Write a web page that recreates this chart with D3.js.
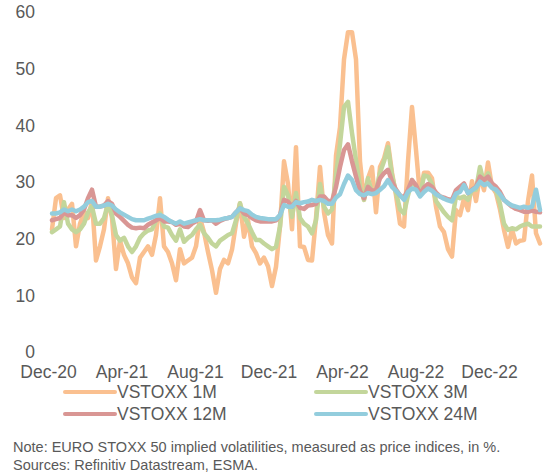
<!DOCTYPE html>
<html>
<head>
<meta charset="utf-8">
<script src="https://cdn.jsdelivr.net/npm/d3@7/dist/d3.min.js"></script>
<style>
  body { margin: 0; background: #fff; }
  svg { display: block; font-family: "Liberation Sans", Arial, sans-serif; }
</style>
</head>
<body>
<svg id="chart" width="556" height="473"></svg>
<script>
// tick labels
var xLabels = ["Dec-20", "Apr-21", "Aug-21", "Dec-21", "Apr-22", "Aug-22", "Dec-22"];
var yTicks = [0, 10, 20, 30, 40, 50, 60];

// series names
var names = ["VSTOXX 1M", "VSTOXX 3M", "VSTOXX 12M", "VSTOXX 24M"];

var vstoxx1m = [22, 27.5, 28, 24, 25.5, 26.5, 19, 23, 25, 24, 27, 16.5, 19, 22, 27.5, 24, 15, 20, 17.5, 16,
    13.5, 12.5, 17, 18, 19, 17.5, 21, 27.5, 19, 18, 16, 13, 18.5, 16, 16.5, 17, 19, 24, 21.5, 18,
    14.8, 10.8, 15, 16.6, 16, 18.4, 23, 26.6, 20.7, 23.6, 19, 17.8, 16, 17, 15.5, 12, 15.4, 22.5, 34, 30,
    22, 36.5, 19, 18.9, 16.6, 16.5, 24, 33, 25, 21, 19.5, 35, 40, 52, 56.8, 56.8, 52, 34, 27.2, 31,
    33, 25, 33, 34.5, 37.2, 32, 28, 23, 22.5, 34, 43.6, 36, 28, 32, 32, 31, 26, 22.5, 21.5, 18.5,
    17.2, 25.4, 24.5, 27.5, 25.4, 30.5, 27, 31.5, 28.9, 33.8, 29.5, 28.4, 25.5, 21.9, 18.9, 22, 19.5, 20, 20.1, 27,
    31.5, 21.3, 19.5];
var vstoxx3m = [21.5, 22, 22.5, 26.8, 23, 22, 21.5, 22, 23, 25, 26, 23, 23, 24, 26.5, 24.5, 21, 20, 20.5, 19,
    18, 19, 20.5, 21.3, 21.8, 22, 23.5, 24.8, 22.5, 22.3, 21, 20, 22, 19.8, 20.5, 21, 22, 22.8, 21.3, 20.5,
    19.5, 19, 20, 20.5, 21, 21.3, 23.6, 26.6, 24.2, 23, 21.5, 20.1, 20.1, 19.5, 19, 18.5, 18.9, 22.5, 29.5, 28,
    24.2, 28.4, 24, 23, 22.5, 21.3, 23.6, 30, 26, 24.8, 25.5, 31.5, 37, 43.6, 44.5, 39, 34.2, 29.5, 27.2, 31,
    28.5, 28.9, 32, 34, 36.5, 31.5, 28.5, 25.5, 24.8, 28, 30.7, 29.5, 28, 31.5, 31.3, 30, 27, 26, 25, 24.2,
    23.6, 27.8, 27.5, 27.8, 27.2, 28.9, 29, 33, 30.1, 31.9, 29.5, 28.9, 26.5, 23, 21.9, 22.2, 22, 22.5, 22.8, 23,
    22.5, 22.5, 22.5];
var vstoxx12m = [23.6, 23.8, 24, 25, 24.5, 24.5, 24, 24.5, 25.5, 27.5, 29, 26, 26, 26.2, 27, 26.5, 24.8, 24.2, 23.5, 22.8,
    22.3, 22.2, 22.3, 22.2, 22.8, 23.2, 23.6, 24, 23.4, 23.4, 23.3, 22.8, 23, 22.5, 22.4, 23, 23.4, 25.4, 23.6, 23.5,
    23.6, 23, 23.5, 23.8, 24, 24.2, 25, 25.7, 24.8, 24.5, 24, 23.6, 23.4, 23.4, 23.4, 23.4, 23.6, 24.5, 27.2, 26.9,
    26, 27, 25.8, 25.6, 26.2, 26.3, 26.5, 27.8, 27.8, 27, 27, 29.5, 33, 36, 37, 34, 31.3, 28.8, 27.5, 29.5,
    28.8, 28.9, 31, 31.9, 32.5, 30.5, 29, 28, 27.6, 29, 30.7, 29.8, 28.2, 29.4, 30, 29.5, 28.5, 27.8, 27.6, 27.3,
    27.2, 28.9, 29.5, 30.1, 28.4, 29, 29.5, 31.3, 30.7, 31.3, 30.1, 29.5, 28.6, 27.2, 26.6, 26, 25.6, 25.4, 25.1, 25.1,
    25.3, 25.1, 25];
var vstoxx24m = [24.8, 24.8, 25, 25.5, 25.2, 25.5, 25.2, 25.5, 26, 26.8, 27, 26, 26, 26.2, 26.5, 26.2, 25.5, 25, 24.6, 24.2,
    23.8, 23.6, 23.6, 23.6, 23.9, 24.1, 24.4, 24.5, 24.2, 23.7, 23.3, 23, 23.4, 23, 23.2, 23.4, 23.6, 23.8, 23.6, 23.6,
    23.6, 23.6, 23.7, 23.9, 24, 24.2, 25, 25.7, 25.4, 25.2, 24.6, 24.2, 24, 23.9, 23.8, 23.8, 23.8, 24.5, 26.3, 26,
    26, 26.8, 26.6, 26.8, 26.9, 27.2, 27, 27.2, 27, 26.5, 26.5, 27.6, 28.2, 30, 31.5, 30.7, 28.9, 28.2, 28, 28.4,
    28.2, 28.4, 29, 29.6, 30.7, 29.5, 28.8, 28, 27.2, 28.6, 29.2, 29, 27.8, 28.6, 29.2, 28.8, 28.2, 27.8, 27.4, 27.1,
    26.9, 28.3, 28.6, 29.8, 28.4, 28.9, 29.4, 30.4, 29.8, 30.1, 29.3, 29, 28.2, 27.2, 26.6, 26.2, 26, 25.8, 26, 25.8,
    26, 29, 25.4];

var colors = ["#fac090", "#c3d69b", "#d99694", "#93cddd"];

var series = [vstoxx1m, vstoxx3m, vstoxx12m, vstoxx24m].map(function(values, i) {
    return { name: names[i], values: values, color: colors[i] };
});

var svg = d3.select("#chart");
var textColor = "#595959";
var fontFamily = "'Liberation Sans', Arial, sans-serif";

var x = d3.scaleLinear()
    .domain([0, vstoxx1m.length - 1])
    .range([52, 540]);

var xAxisScale = d3.scalePoint()
    .domain(xLabels)
    .range([48, 489]);

var y = d3.scaleLinear()
    .domain([0, 60])
    .range([354, 14]);

// y axis labels only, no line
var yAxis = svg.append("g")
    .attr("transform", "translate(35,0)")
    .call(d3.axisLeft(y).tickValues(yTicks).tickSize(0).tickPadding(0));
yAxis.select(".domain").remove();
yAxis.selectAll("text")
    .attr("fill", textColor)
    .attr("dy", "0.22em")
    .style("font-size", "17.5px")
    .style("font-family", fontFamily);

var xAxis = svg.append("g")
    .attr("transform", "translate(0,366)")
    .call(d3.axisBottom(xAxisScale).tickSize(0).tickPadding(0));
xAxis.select(".domain").remove();
xAxis.selectAll("text")
    .attr("fill", textColor)
    .style("font-size", "17.5px")
    .style("font-family", fontFamily);

var line = d3.line()
    .x(function(d, i) { return x(i); })
    .y(function(d) { return y(d); });

svg.append("g")
    .selectAll("path")
    .data(series)
    .enter().append("path")
    .attr("d", function(d) { return line(d.values); })
    .attr("fill", "none")
    .attr("stroke", function(d) { return d.color; })
    .attr("stroke-width", 4.5)
    .attr("stroke-linejoin", "round")
    .attr("stroke-linecap", "round");

// legend, 2 columns
var legend = svg.append("g")
    .selectAll("g")
    .data(series)
    .enter().append("g")
    .attr("transform", function(d, i) {
        return "translate(" + (i % 2 === 0 ? 65 : 316) + "," + (392 + Math.floor(i / 2) * 22) + ")";
    });

legend.append("line")
    .attr("x1", 0).attr("x2", 50)
    .attr("stroke", function(d) { return d.color; })
    .attr("stroke-width", 4)
    .attr("stroke-linecap", "round");

legend.append("text")
    .attr("x", 52)
    .attr("dy", "0.35em")
    .attr("fill", textColor)
    .style("font-size", "17.5px")
    .text(function(d) { return d.name; });

svg.append("text")
    .attr("x", 13).attr("y", 452)
    .attr("fill", textColor)
    .style("font-size", "14.5px")
    .text("Note: EURO STOXX 50 implied volatilities, measured as price indices, in %.");

svg.append("text")
    .attr("x", 13).attr("y", 470)
    .attr("fill", textColor)
    .style("font-size", "14.5px")
    .text("Sources: Refinitiv Datastream, ESMA.");
</script>
</body>
</html>
